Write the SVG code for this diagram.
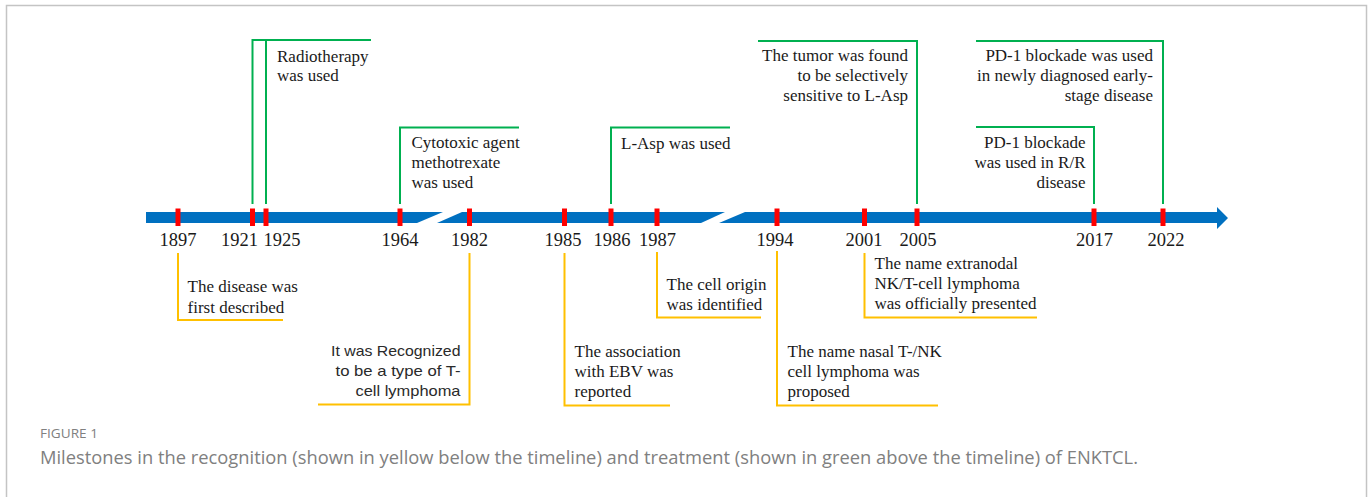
<svg xmlns="http://www.w3.org/2000/svg" width="1370" height="497" viewBox="0 0 1370 497">
<style>
.t{font-family:"Liberation Serif","Times New Roman",serif;font-size:17px;fill:#1a1a1a}
.yr{font-family:"Liberation Serif","Times New Roman",serif;font-size:18.5px;fill:#1a1a1a;text-anchor:middle}
.s{font-family:"Liberation Sans",Arial,sans-serif;font-size:15px;fill:#2a2a2a;text-anchor:end}
.e{text-anchor:end}
.g{fill:none;stroke:#00b050;stroke-width:2}
.y{fill:none;stroke:#ffc000;stroke-width:2}
.tick{fill:#ff0000}
.bar{fill:#0070c0}
.cap{font-family:"Open Sans","Liberation Sans",sans-serif;fill:#808080}
</style>
<rect x="6.5" y="5.5" width="1360" height="520" fill="#ffffff" stroke="#c4c4c4" stroke-width="1.5"/>

<g id="timeline">
<polygon class="bar" points="146,212 443,212 417,223 146,223"/>
<polygon class="bar" points="462,212 725,212 701,223 437,223"/>
<polygon class="bar" points="745,212 1217,212 1217,207 1228,218 1217,229 1217,223 719,223"/>
</g>

<g id="connectors">
<path class="g" d="M252.5,204 V40 H371 M266,204 V40"/>
<path class="g" d="M400,204 V127.5 H519"/>
<path class="g" d="M611,204 V127.5 H730"/>
<path class="g" d="M917,204 V41 H758"/>
<path class="g" d="M1094,204 V127 H976"/>
<path class="g" d="M1163,204 V41 H976"/>
<path class="y" d="M178,253 V320 H283"/>
<path class="y" d="M469.5,253 V404.5 H318"/>
<path class="y" d="M564.5,253 V405.5 H670"/>
<path class="y" d="M657,252 V317.5 H761"/>
<path class="y" d="M777,251 V405.5 H938"/>
<path class="y" d="M864.5,253 V317.5 H1037"/>
</g>

<g id="ticks">
<rect class="tick" x="175.5" y="208.5" width="5" height="17.5"/>
<rect class="tick" x="250" y="208.5" width="5" height="17.5"/>
<rect class="tick" x="263.5" y="208.5" width="5" height="17.5"/>
<rect class="tick" x="397.5" y="208.5" width="5" height="17.5"/>
<rect class="tick" x="467" y="208.5" width="5" height="17.5"/>
<rect class="tick" x="562" y="208.5" width="5" height="17.5"/>
<rect class="tick" x="608.5" y="208.5" width="5" height="17.5"/>
<rect class="tick" x="654.5" y="208.5" width="5" height="17.5"/>
<rect class="tick" x="774.5" y="208.5" width="5" height="17.5"/>
<rect class="tick" x="862" y="208.5" width="5" height="17.5"/>
<rect class="tick" x="914.5" y="208.5" width="5" height="17.5"/>
<rect class="tick" x="1091.5" y="208.5" width="5" height="17.5"/>
<rect class="tick" x="1160.5" y="208.5" width="5" height="17.5"/>
</g>

<g id="years">
<text class="yr" x="178" y="246">1897</text>
<text class="yr" x="239.5" y="246">1921</text>
<text class="yr" x="282" y="246">1925</text>
<text class="yr" x="400" y="246">1964</text>
<text class="yr" x="469.5" y="246">1982</text>
<text class="yr" x="563" y="246">1985</text>
<text class="yr" x="612" y="246">1986</text>
<text class="yr" x="657.5" y="246">1987</text>
<text class="yr" x="775" y="246">1994</text>
<text class="yr" x="864" y="246">2001</text>
<text class="yr" x="918" y="246">2005</text>
<text class="yr" x="1094.5" y="246">2017</text>
<text class="yr" x="1166" y="246">2022</text>
</g>

<g id="n1921">
<text class="t" x="277" y="61.5">Radiotherapy</text>
<text class="t" x="277" y="81">was used</text>
</g>
<g id="n1964">
<text class="t" x="411.5" y="148">Cytotoxic agent</text>
<text class="t" x="411.5" y="168">methotrexate</text>
<text class="t" x="411.5" y="188">was used</text>
</g>
<g id="n1986">
<text class="t" x="621" y="148.5">L-Asp was used</text>
</g>
<g id="n2005">
<text class="t e" x="908" y="60.5">The tumor was found</text>
<text class="t e" x="908" y="81">to be selectively</text>
<text class="t e" x="908" y="101">sensitive to L-Asp</text>
</g>
<g id="n2017">
<text class="t e" x="1085.5" y="147.5">PD-1 blockade</text>
<text class="t e" x="1085.5" y="167.5">was used in R/R</text>
<text class="t e" x="1085.5" y="187.5">disease</text>
</g>
<g id="n2022">
<text class="t e" x="1153" y="60.5">PD-1 blockade was used</text>
<text class="t e" x="1153" y="81">in newly diagnosed early-</text>
<text class="t e" x="1153" y="101">stage disease</text>
</g>

<g id="n1897">
<text class="t" x="187.5" y="292">The disease was</text>
<text class="t" x="187.5" y="312.5">first described</text>
</g>
<g id="n1982">
<text class="s" x="460.5" y="356" textLength="129.5" lengthAdjust="spacingAndGlyphs">It was Recognized</text>
<text class="s" x="460.5" y="376" textLength="125" lengthAdjust="spacingAndGlyphs">to be a type of T-</text>
<text class="s" x="460.5" y="396" textLength="105" lengthAdjust="spacingAndGlyphs">cell lymphoma</text>
</g>
<g id="n1985">
<text class="t" x="574.5" y="357">The association</text>
<text class="t" x="574.5" y="377">with EBV was</text>
<text class="t" x="574.5" y="397">reported</text>
</g>
<g id="n1987">
<text class="t" x="666.5" y="290">The cell origin</text>
<text class="t" x="666.5" y="309.5">was identified</text>
</g>
<g id="n1994">
<text class="t" x="787.5" y="357">The name nasal T-/NK</text>
<text class="t" x="787.5" y="377">cell lymphoma was</text>
<text class="t" x="787.5" y="397">proposed</text>
</g>
<g id="n2001">
<text class="t" x="874.5" y="268.5">The name extranodal</text>
<text class="t" x="874.5" y="288.5">NK/T-cell lymphoma</text>
<text class="t" x="874.5" y="309">was officially presented</text>
</g>

<g id="caption">
<text class="cap" x="40" y="437.5" font-size="13" fill="#6e6e6e" textLength="58" lengthAdjust="spacingAndGlyphs">FIGURE 1</text>
<text class="cap" x="40" y="464" font-size="18" textLength="1098" lengthAdjust="spacingAndGlyphs">Milestones in the recognition (shown in yellow below the timeline) and treatment (shown in green above the timeline) of ENKTCL.</text>
</g>
</svg>
